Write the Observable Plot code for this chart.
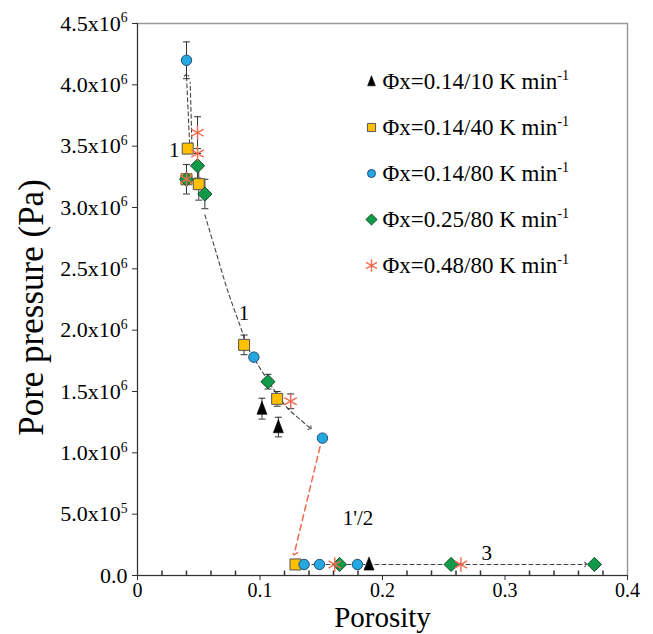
<!DOCTYPE html>
<html><head><meta charset="utf-8">
<script src="https://cdn.jsdelivr.net/npm/d3@7"></script>
<script src="https://cdn.jsdelivr.net/npm/@observablehq/plot@0.6"></script>
<style>
html,body{margin:0;padding:0;background:#fff;}
#wrap{position:relative;width:653px;height:634px;}
#legend{position:absolute;left:355px;top:60px;}
#wrap svg, #wrap svg text, #wrap svg g{font-family:"Liberation Serif","Times New Roman",serif !important;}
</style></head>
<body><div id="wrap"><div id="chart"></div><div id="legend"></div></div>
<script>
// [porosity, pore pressure (Pa), error (Pa)]
const tri10  = [[0.1016,1.36e6,0.085e6],[0.115,1.21e6,0.08e6],[0.189,0.09e6,0]];
const sq40   = [[0.041,3.48e6,0],[0.040,3.23e6,0.12e6],[0.050,3.19e6,0.13e6],[0.087,1.88e6,0.08e6],[0.114,1.44e6,0.06e6],[0.129,0.09e6,0]];
const circ80 = [[0.040,4.20e6,0.15e6],[0.095,1.78e6,0.03e6],[0.151,1.12e6,0],[0.136,0.09e6,0],[0.1486,0.09e6,0],[0.1795,0.09e6,0]];
const dia25  = [[0.040,3.23e6,0],[0.049,3.34e6,0.10e6],[0.055,3.11e6,0.12e6],[0.1065,1.58e6,0.06e6],[0.165,0.09e6,0],[0.256,0.09e6,0],[0.373,0.09e6,0]];
const star48 = [[0.049,3.61e6,0.13e6],[0.049,3.44e6,0],[0.040,3.23e6,0],[0.125,1.42e6,0.06e6],[0.161,0.09e6,0],[0.264,0.09e6,0]];

// dashed guide paths
const path1     = [[0.055,2.94e6],[0.064,2.64e6],[0.074,2.31e6],[0.084,2.03e6],[0.090,1.86e6],[0.097,1.74e6],[0.107,1.58e6],[0.122,1.37e6],[0.133,1.27e6],[0.141,1.20e6]];
const path1up   = [[0.0425,3.52e6],[0.0400,4.08e6]];
const path1up2  = [[0.0445,3.50e6],[0.0430,4.02e6]];
const path12    = [[0.149,1.05e6],[0.128,0.18e6]];
const path3     = [[0.131,0.09e6],[0.366,0.09e6]];

const annotations = [
  {x:0.030, y:3.47e6, t:"1"},
  {x:0.087, y:2.14e6, t:"1"},
  {x:0.180, y:0.47e6, t:"1'/2"},
  {x:0.285, y:0.18e6, t:"3"}
];

const xTicks = [0, 0.1, 0.2, 0.3, 0.4];
const xMinor = [0.02,0.04,0.06,0.08,0.12,0.14,0.16,0.18,0.22,0.24,0.26,0.28,0.32,0.34,0.36,0.38];
const yTicks = [0, 0.5e6, 1.0e6, 1.5e6, 2.0e6, 2.5e6, 3.0e6, 3.5e6, 4.0e6, 4.5e6];
const yTickLabels = ["0.0","5.0x10⁵","1.0x10⁶","1.5x10⁶","2.0x10⁶","2.5x10⁶","3.0x10⁶","3.5x10⁶","4.0x10⁶","4.5x10⁶"];
const xTickLabels = ["0","0.1","0.2","0.3","0.4"];

const legendLabels = ["Φx=0.14/10 K min⁻¹","Φx=0.14/40 K min⁻¹","Φx=0.14/80 K min⁻¹","Φx=0.25/80 K min⁻¹","Φx=0.48/80 K min⁻¹"];

const FONT = "Liberation Serif";
const triSym = {draw(ctx, size){ const s = Math.sqrt(size)/10.6; const h=7.5*s, w=5*s; ctx.moveTo(0,-h); ctx.lineTo(w,h*0.75); ctx.lineTo(-w,h*0.75); ctx.closePath(); }};
const capSym = {draw(ctx){ ctx.moveTo(-3.5,0); ctx.lineTo(3.5,0); }};
const vTick  = {draw(ctx){ ctx.moveTo(0,0); ctx.lineTo(0,-5); }};

const styles = {
  tri:  {symbol: triSym, fill:"#000", stroke:"#000", r:6, strokeWidth:0.6},
  sq:   {symbol:"square", fill:"#FFC000", stroke:"#555", r:6.2, strokeWidth:1},
  circ: {symbol:"circle", fill:"#25A8E0", stroke:"#1F4E79", r:5.2, strokeWidth:1},
  dia:  {symbol:"diamond2", fill:"#0E9A48", stroke:"#1D4D2B", r:6.4, strokeWidth:1},
  star: {symbol:"asterisk", fill:"none", stroke:"#F26A4F", r:6.8, strokeWidth:1.4}
};
const series = [["tri",tri10],["sq",sq40],["dia",dia25],["circ",circ80],["star",star48]];

const errs = series.flatMap(([,s]) => s.filter(d => d[2] > 0));
const pt = (d) => ({x:d[0], y:d[1]});

const marks = [
  Plot.frame({stroke:"#999", strokeWidth:1.5}),
  Plot.ruleY([0], {stroke:"#333"}),
  Plot.ruleX([0], {stroke:"#333"}),
  Plot.axisX(xTicks, {tickFormat:(d,i)=>xTickLabels[i], tickSize:5, tickPadding:2, fontSize:20, label:null, stroke:"#333", fontFamily:FONT}),
  Plot.dot(xMinor, {x:d=>d, frameAnchor:"bottom", symbol:vTick, stroke:"#333"}),
  Plot.axisY(yTicks, {tickFormat:(d,i)=>yTickLabels[i], tickSize:5, tickPadding:5, fontSize:22, label:null, stroke:"#333", fontFamily:FONT}),
  Plot.text(["Porosity"], {frameAnchor:"bottom", lineAnchor:"middle", textAnchor:"middle", dy:42, fontSize:29, fontFamily:FONT}),
  Plot.text(["Pore pressure (Pa)"], {frameAnchor:"left", textAnchor:"middle", lineAnchor:"middle", dx:-106, dy:8, rotate:-90, fontSize:35, fontFamily:FONT}),
  // dashed guides
  Plot.line(path1, {x:d=>d[0], y:d=>d[1], curve:"catmull-rom", stroke:"#444", strokeDasharray:"4,3", strokeWidth:1.1, markerEnd:"arrow"}),
  Plot.line(path1up, {x:d=>d[0], y:d=>d[1], stroke:"#444", strokeDasharray:"4,3", strokeWidth:1.1, markerEnd:"arrow"}),
  Plot.line(path1up2, {x:d=>d[0], y:d=>d[1], stroke:"#444", strokeDasharray:"4,3", strokeWidth:1.1}),
  Plot.line(path12, {x:d=>d[0], y:d=>d[1], stroke:"#F26A4F", strokeDasharray:"6,4", strokeWidth:1.5, markerEnd:"arrow"}),
  Plot.line(path3, {x:d=>d[0], y:d=>d[1], stroke:"#444", strokeDasharray:"4,3", strokeWidth:1.1, markerEnd:"arrow"}),
  // error bars
  Plot.ruleX(errs, {x:d=>d[0], y1:d=>d[1]-d[2], y2:d=>d[1]+d[2], stroke:"#333", strokeWidth:1}),
  Plot.dot(errs, {x:d=>d[0], y:d=>d[1]+d[2], symbol:capSym, stroke:"#333", strokeWidth:1}),
  Plot.dot(errs, {x:d=>d[0], y:d=>d[1]-d[2], symbol:capSym, stroke:"#333", strokeWidth:1}),
  ...series.map(([k,s]) => Plot.dot(s.map(pt), {x:"x", y:"y", ...styles[k]})),
  Plot.text(annotations, {x:"x", y:"y", text:"t", fontSize:21, fontFamily:FONT})
];

const chart = Plot.plot({
  width:653, height:634,
  marginLeft:137, marginRight:26, marginTop:23, marginBottom:59,
  style:{fontFamily:FONT, color:"#000", background:"#fff"},
  x:{domain:[0,0.4]},
  y:{domain:[0,4.5e6]},
  marks
});
document.getElementById("chart").append(chart);

const legStyles = [
  {...styles.tri, r:4.6},
  {...styles.sq, r:4.6},
  {...styles.circ, r:4},
  {...styles.dia, r:5},
  {...styles.star, r:6}
];
const legend = Plot.plot({
  width:290, height:230, margin:0,
  style:{fontFamily:FONT, background:"transparent"},
  y:{type:"point", domain:legendLabels, range:[21,205], padding:0, axis:null},
  x:{domain:[0,1], axis:null},
  marks:[
    ...legendLabels.map((lab,i) => Plot.dot([lab], {y:d=>d, frameAnchor:"left", dx:16, ...legStyles[i]})),
    Plot.text(legendLabels, {y:d=>d, frameAnchor:"left", dx:27, textAnchor:"start", fontSize:23, fontFamily:FONT})
  ]
});
document.getElementById("legend").append(legend);

// render unicode superscripts as real superscript tspans
const SUP = {"⁰":"0","¹":"1","²":"2","³":"3","⁴":"4","⁵":"5","⁶":"6","⁷":"7","⁸":"8","⁹":"9","⁻":"-"};
const NS = "http://www.w3.org/2000/svg";
document.querySelectorAll("#wrap svg text").forEach(t => {
  if (t.querySelector("tspan")) return;
  const s = t.textContent;
  const m = s.match(/^(.*?)([⁰¹²³⁴⁵⁶⁷⁸⁹⁻]+)$/);
  if (!m) return;
  t.textContent = "";
  const a = document.createElementNS(NS, "tspan");
  a.textContent = m[1];
  const b = document.createElementNS(NS, "tspan");
  b.textContent = [...m[2]].map(c => SUP[c]).join("");
  b.setAttribute("font-size", "62%");
  b.setAttribute("dy", "-0.6em");
  t.append(a, b);
});
</script></body></html>
